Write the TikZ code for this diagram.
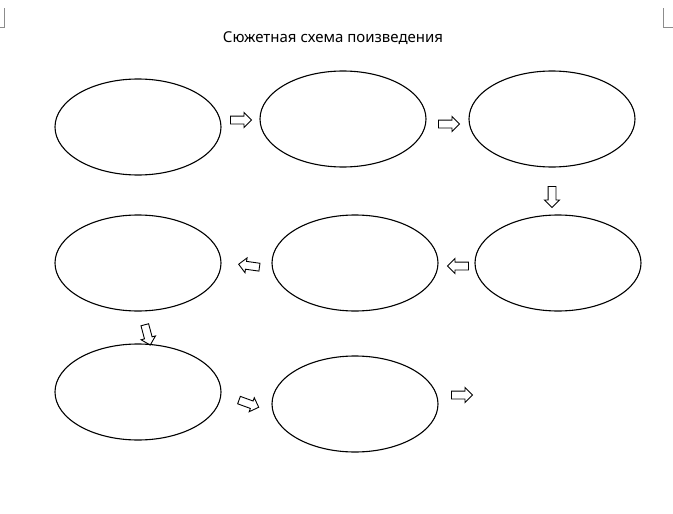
\documentclass[tikz,border=0pt]{standalone}
\usepackage{fontspec}
\setmainfont{Noto Sans}
\usetikzlibrary{shapes.geometric,shapes.arrows}
\tikzset{
  oval/.style={ellipse, draw, line width=1.1pt, minimum width=166pt,
    minimum height=96pt, inner sep=0pt},
  blockarrow/.style={single arrow, draw, line width=0.9pt, inner xsep=0pt,
    inner ysep=3.5pt, minimum height=21pt, single arrow head extend=3.5pt,
    single arrow head indent=0pt, rotate=#1},
  blockarrow/.default=0,
  title/.style={font=\fontsize{15}{18}\selectfont, align=center},
  cornermark/.style={line width=0.5pt, draw=black!45},
}
\begin{document}
\begin{tikzpicture}[x=1pt,y=-1pt]
\useasboundingbox[fill=white] (0,0) rectangle (673,514);

% ---- Title and page corners ------------------------------------------------
\node[title] (ttl) at (333,38) {Сюжетная схема поизведения};
\draw[cornermark] (4,8) -- (4,27) -- (0,27);
\draw[cornermark] (663,8) -- (663,27) -- (673,27);

% ---- Plot stages -----------------------------------------------------------
\node[oval] (s1) at (138,127) {};
\node[oval] (s2) at (343,119) {};
\node[oval] (s3) at (552,119) {};
\node[oval] (s4) at (138,263) {};
\node[oval] (s5) at (355,263) {};
\node[oval] (s6) at (558,263) {};
\node[oval] (s7) at (138,392) {};
\node[oval] (s8) at (355,404) {};

% ---- Arrows between stages -------------------------------------------------
\node[blockarrow] (a1) at (239,120) {};
\node[blockarrow] (a2) at (447,124) {};
\node[blockarrow=-90] (a3) at (552,195) {};
\node[blockarrow=172] (a4) at (251,266) {};
\node[blockarrow=180] (a5) at (460,266) {};
\node[blockarrow=-75] (a6) at (147,333) {};
\node[blockarrow=-20] (a7) at (247,403) {};
\node[blockarrow] (a8) at (460,395) {};

\end{tikzpicture}
\end{document}
